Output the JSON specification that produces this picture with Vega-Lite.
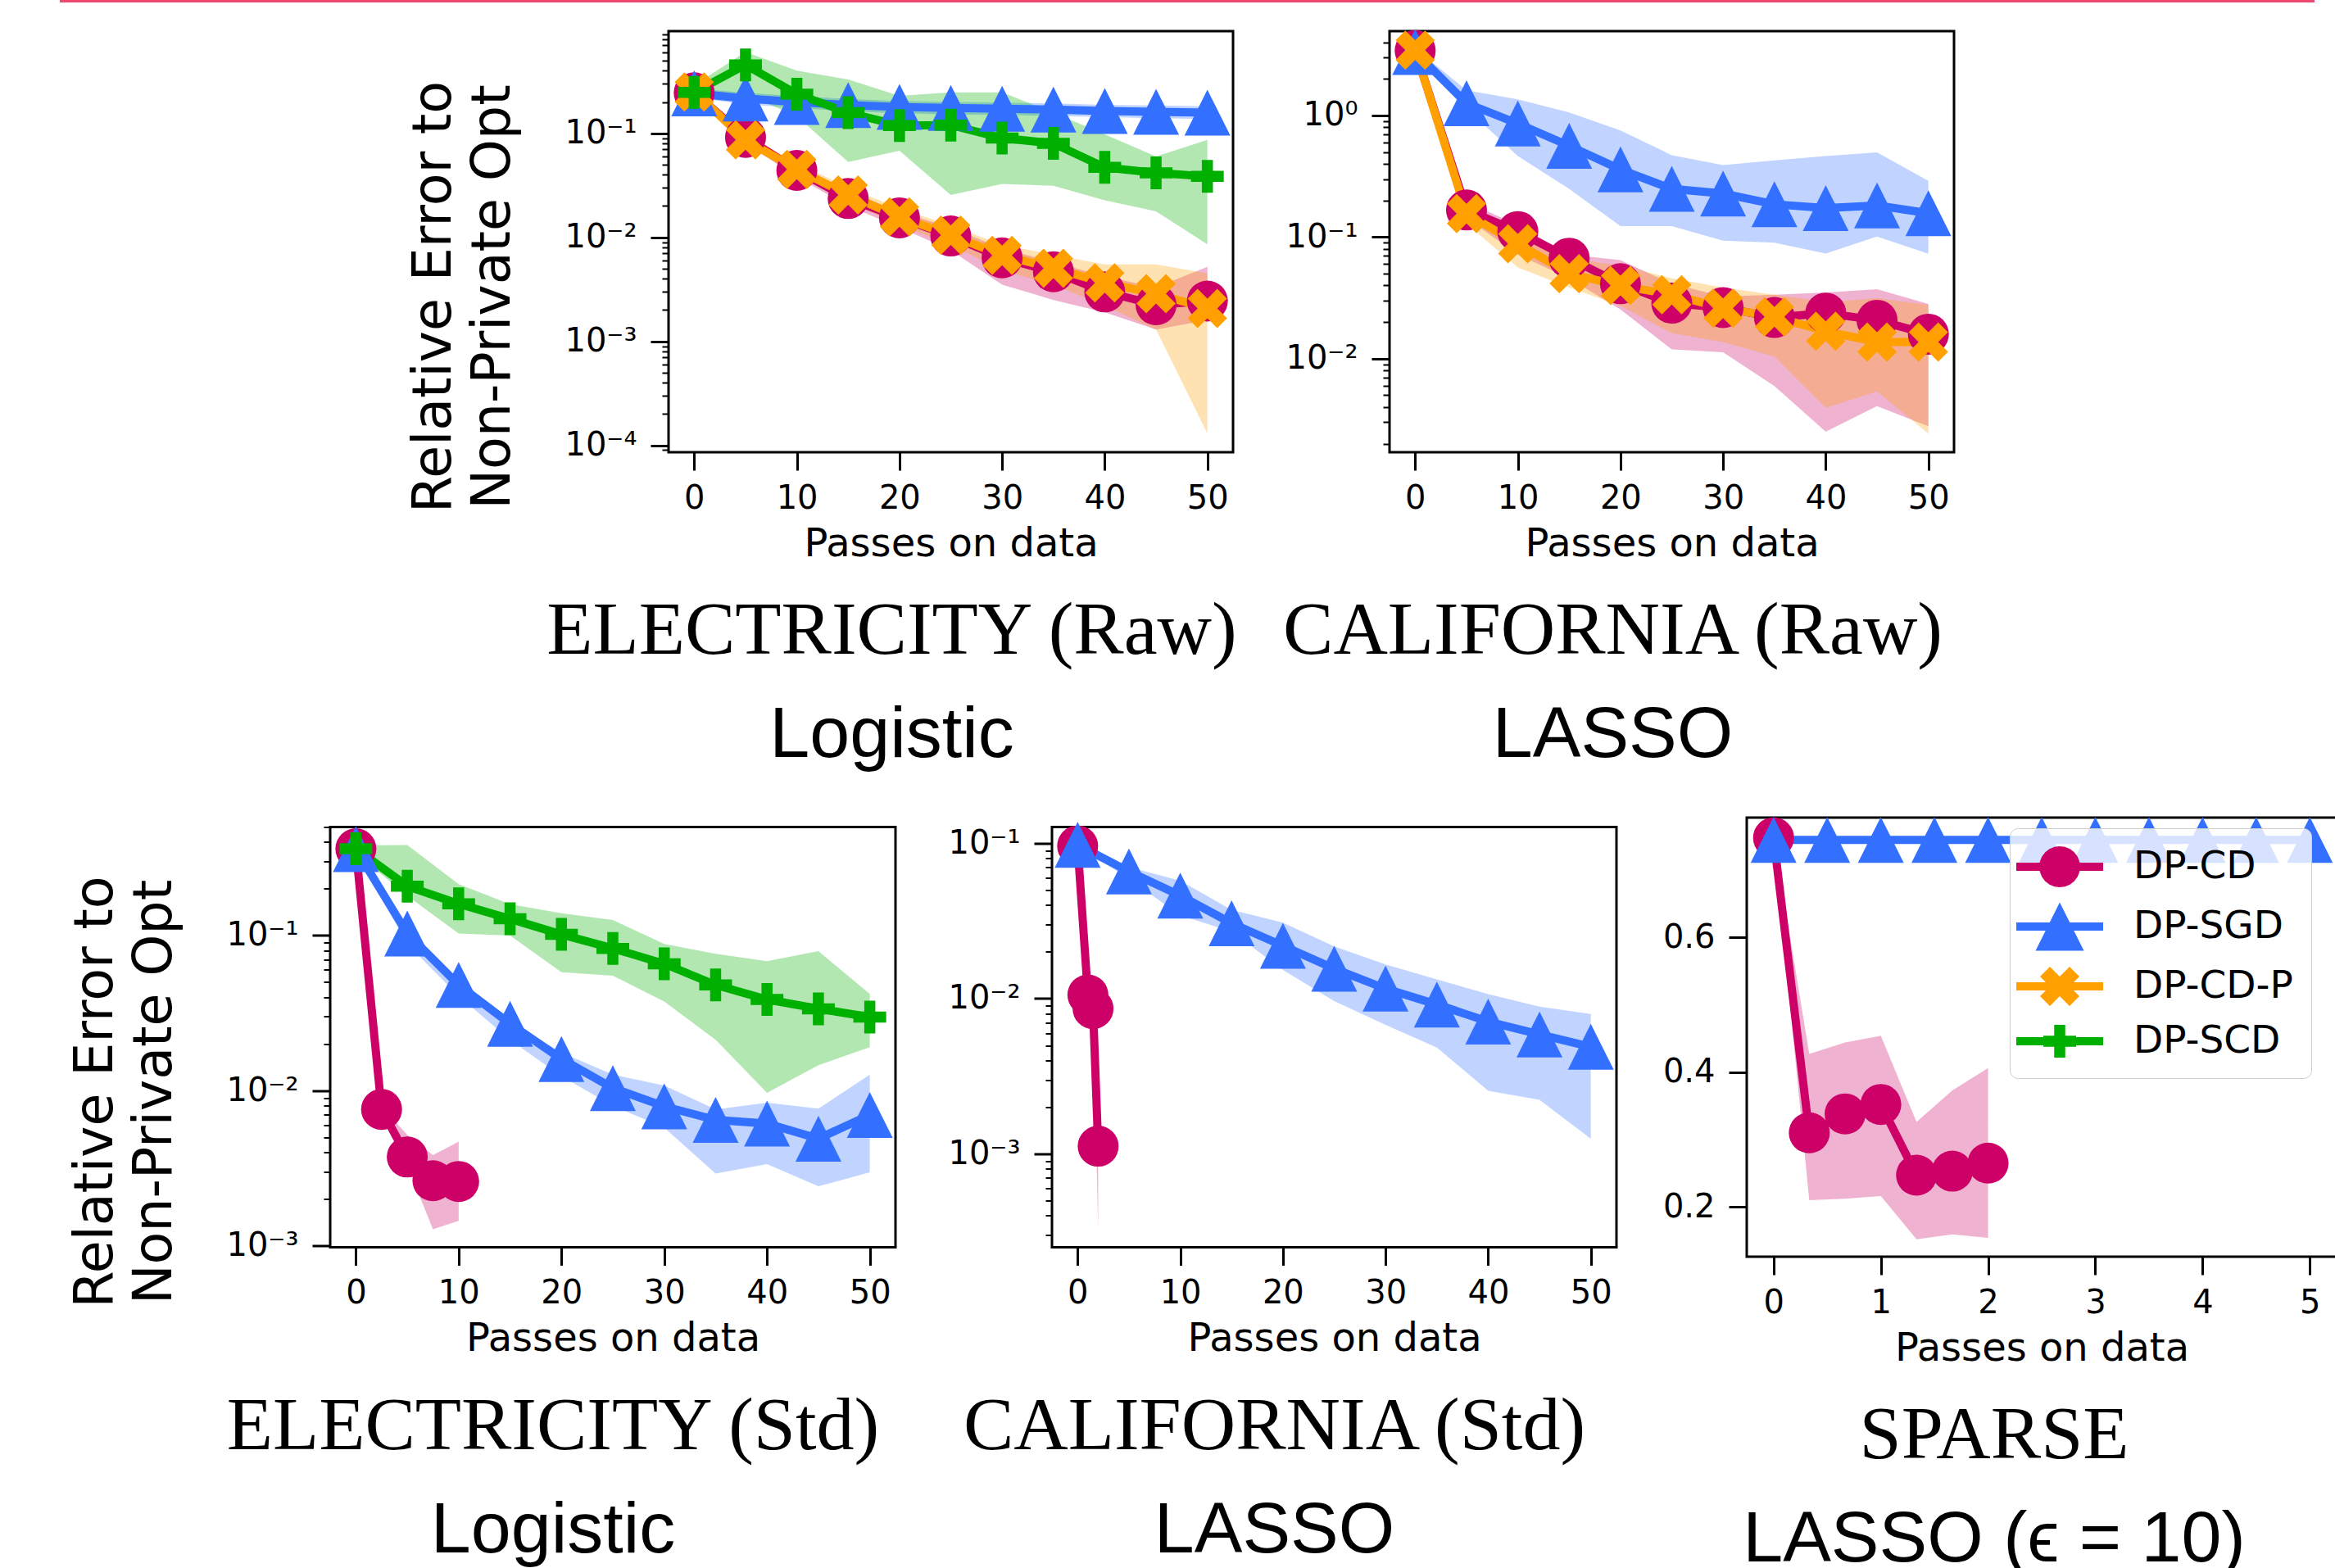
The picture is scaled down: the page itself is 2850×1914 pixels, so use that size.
{
"$schema": "https://vega.github.io/schema/vega-lite/v6.json",
"background": "white",
"padding": {"left": 73, "top": 0, "right": 0, "bottom": 0},
"autosize": {"type": "pad"},
"datasets": {
"p1": [
{"x":0,"method":"DP-CD","y":0.245,"lo":0.22,"hi":0.28},{"x":5,"method":"DP-CD","y":0.0915,"lo":0.08,"hi":0.1},{"x":10,"method":"DP-CD","y":0.044,"lo":0.038,"hi":0.05},{"x":15,"method":"DP-CD","y":0.0236,"lo":0.02,"hi":0.028},{"x":20,"method":"DP-CD","y":0.0154,"lo":0.0125,"hi":0.0175},{"x":25,"method":"DP-CD","y":0.0103,"lo":0.0075,"hi":0.0125},{"x":30,"method":"DP-CD","y":0.00635,"lo":0.0035,"hi":0.0078},{"x":35,"method":"DP-CD","y":0.00467,"lo":0.0025,"hi":0.0058},{"x":40,"method":"DP-CD","y":0.00299,"lo":0.0019,"hi":0.0042},{"x":45,"method":"DP-CD","y":0.00225,"lo":0.0013,"hi":0.0033},{"x":50,"method":"DP-CD","y":0.00244,"lo":0.0016,"hi":0.0052},
{"x":0,"method":"DP-SGD","y":0.242,"lo":0.22,"hi":0.27},{"x":5,"method":"DP-SGD","y":0.216,"lo":0.19,"hi":0.245},{"x":10,"method":"DP-SGD","y":0.2,"lo":0.175,"hi":0.228},{"x":15,"method":"DP-SGD","y":0.187,"lo":0.163,"hi":0.214},{"x":20,"method":"DP-SGD","y":0.179,"lo":0.156,"hi":0.205},{"x":25,"method":"DP-SGD","y":0.175,"lo":0.152,"hi":0.2},{"x":30,"method":"DP-SGD","y":0.172,"lo":0.15,"hi":0.197},{"x":35,"method":"DP-SGD","y":0.169,"lo":0.147,"hi":0.194},{"x":40,"method":"DP-SGD","y":0.164,"lo":0.143,"hi":0.188},{"x":45,"method":"DP-SGD","y":0.161,"lo":0.14,"hi":0.185},{"x":50,"method":"DP-SGD","y":0.158,"lo":0.137,"hi":0.182},
{"x":0,"method":"DP-CD-P","y":0.25,"lo":0.22,"hi":0.28},{"x":5,"method":"DP-CD-P","y":0.0865,"lo":0.078,"hi":0.098},{"x":10,"method":"DP-CD-P","y":0.045,"lo":0.04,"hi":0.052},{"x":15,"method":"DP-CD-P","y":0.0256,"lo":0.022,"hi":0.03},{"x":20,"method":"DP-CD-P","y":0.0157,"lo":0.013,"hi":0.019},{"x":25,"method":"DP-CD-P","y":0.0105,"lo":0.0085,"hi":0.013},{"x":30,"method":"DP-CD-P","y":0.00671,"lo":0.0048,"hi":0.0085},{"x":35,"method":"DP-CD-P","y":0.00505,"lo":0.0035,"hi":0.0068},{"x":40,"method":"DP-CD-P","y":0.00366,"lo":0.0022,"hi":0.0055},{"x":45,"method":"DP-CD-P","y":0.00287,"lo":0.0013,"hi":0.0055},{"x":50,"method":"DP-CD-P","y":0.00207,"lo":0.00013,"hi":0.0045},
{"x":0,"method":"DP-SCD","y":0.248,"lo":0.21,"hi":0.29},{"x":5,"method":"DP-SCD","y":0.455,"lo":0.238,"hi":0.605},{"x":10,"method":"DP-SCD","y":0.238,"lo":0.146,"hi":0.4},{"x":15,"method":"DP-SCD","y":0.158,"lo":0.053,"hi":0.33},{"x":20,"method":"DP-SCD","y":0.119,"lo":0.068,"hi":0.229},{"x":25,"method":"DP-SCD","y":0.12,"lo":0.0256,"hi":0.248},{"x":30,"method":"DP-SCD","y":0.09,"lo":0.0327,"hi":0.248},{"x":35,"method":"DP-SCD","y":0.08,"lo":0.0313,"hi":0.158},{"x":40,"method":"DP-SCD","y":0.047,"lo":0.0227,"hi":0.0976},{"x":45,"method":"DP-SCD","y":0.0417,"lo":0.0178,"hi":0.06},{"x":50,"method":"DP-SCD","y":0.0385,"lo":0.00857,"hi":0.0865}
],
"p2": [
{"x":0,"method":"DP-CD","y":3.42,"lo":3.2,"hi":3.6},{"x":5,"method":"DP-CD","y":0.167,"lo":0.143,"hi":0.196},{"x":10,"method":"DP-CD","y":0.111,"lo":0.0718,"hi":0.125},{"x":15,"method":"DP-CD","y":0.067,"lo":0.0458,"hi":0.0718},{"x":20,"method":"DP-CD","y":0.0413,"lo":0.0254,"hi":0.0646},{"x":25,"method":"DP-CD","y":0.0286,"lo":0.0119,"hi":0.0413},{"x":30,"method":"DP-CD","y":0.0263,"lo":0.0113,"hi":0.0324},{"x":35,"method":"DP-CD","y":0.0218,"lo":0.00595,"hi":0.0336},{"x":40,"method":"DP-CD","y":0.0237,"lo":0.00251,"hi":0.035},{"x":45,"method":"DP-CD","y":0.0207,"lo":0.00407,"hi":0.0372},{"x":50,"method":"DP-CD","y":0.0159,"lo":0.00278,"hi":0.0282},
{"x":0,"method":"DP-SGD","y":3.33,"lo":3.1,"hi":3.57},{"x":5,"method":"DP-SGD","y":1.26,"lo":1.14,"hi":1.61},{"x":10,"method":"DP-SGD","y":0.859,"lo":0.464,"hi":1.36},{"x":15,"method":"DP-SGD","y":0.563,"lo":0.249,"hi":1.06},{"x":20,"method":"DP-SGD","y":0.36,"lo":0.123,"hi":0.753},{"x":25,"method":"DP-SGD","y":0.249,"lo":0.123,"hi":0.471},{"x":30,"method":"DP-SGD","y":0.228,"lo":0.0933,"hi":0.391},{"x":35,"method":"DP-SGD","y":0.186,"lo":0.09,"hi":0.427},{"x":40,"method":"DP-SGD","y":0.173,"lo":0.0733,"hi":0.464},{"x":45,"method":"DP-SGD","y":0.182,"lo":0.101,"hi":0.497},{"x":50,"method":"DP-SGD","y":0.157,"lo":0.0728,"hi":0.29},
{"x":0,"method":"DP-CD-P","y":3.45,"lo":3.2,"hi":3.6},{"x":5,"method":"DP-CD-P","y":0.156,"lo":0.129,"hi":0.19},{"x":10,"method":"DP-CD-P","y":0.0883,"lo":0.0563,"hi":0.11},{"x":15,"method":"DP-CD-P","y":0.05,"lo":0.0385,"hi":0.067},{"x":20,"method":"DP-CD-P","y":0.0399,"lo":0.0272,"hi":0.0583},{"x":25,"method":"DP-CD-P","y":0.0336,"lo":0.0162,"hi":0.0458},{"x":30,"method":"DP-CD-P","y":0.026,"lo":0.0137,"hi":0.0385},{"x":35,"method":"DP-CD-P","y":0.0221,"lo":0.0104,"hi":0.0336},{"x":40,"method":"DP-CD-P","y":0.0168,"lo":0.00394,"hi":0.0292},{"x":45,"method":"DP-CD-P","y":0.0137,"lo":0.00537,"hi":0.0314},{"x":50,"method":"DP-CD-P","y":0.0137,"lo":0.00242,"hi":0.0276}
],
"p3": [
{"x":0,"method":"DP-CD","y":0.362,"lo":0.34,"hi":0.38},{"x":2.5,"method":"DP-CD","y":0.00758,"lo":0.0073,"hi":0.0079},{"x":5,"method":"DP-CD","y":0.00374,"lo":0.0033,"hi":0.0052},{"x":7.5,"method":"DP-CD","y":0.00263,"lo":0.00128,"hi":0.00385},{"x":10,"method":"DP-CD","y":0.0026,"lo":0.00145,"hi":0.0047},
{"x":0,"method":"DP-SGD","y":0.36,"lo":0.34,"hi":0.38},{"x":5,"method":"DP-SGD","y":0.103,"lo":0.088,"hi":0.11},{"x":10,"method":"DP-SGD","y":0.048,"lo":0.0408,"hi":0.0507},{"x":15,"method":"DP-SGD","y":0.027,"lo":0.0213,"hi":0.0279},{"x":20,"method":"DP-SGD","y":0.016,"lo":0.0124,"hi":0.0176},{"x":25,"method":"DP-SGD","y":0.0104,"lo":0.008,"hi":0.0127},{"x":30,"method":"DP-SGD","y":0.00792,"lo":0.00578,"hi":0.0108},{"x":35,"method":"DP-SGD","y":0.00648,"lo":0.00293,"hi":0.00758},{"x":40,"method":"DP-SGD","y":0.00614,"lo":0.00336,"hi":0.00836},{"x":45,"method":"DP-SGD","y":0.00491,"lo":0.00242,"hi":0.00766},{"x":50,"method":"DP-SGD","y":0.00698,"lo":0.00298,"hi":0.0127},
{"x":0,"method":"DP-SCD","y":0.362,"lo":0.34,"hi":0.38},{"x":5,"method":"DP-SCD","y":0.208,"lo":0.18,"hi":0.383},{"x":10,"method":"DP-SCD","y":0.16,"lo":0.103,"hi":0.214},{"x":15,"method":"DP-SCD","y":0.128,"lo":0.1,"hi":0.159},{"x":20,"method":"DP-SCD","y":0.1016,"lo":0.058,"hi":0.139},{"x":25,"method":"DP-SCD","y":0.0826,"lo":0.055,"hi":0.126},{"x":30,"method":"DP-SCD","y":0.0657,"lo":0.0376,"hi":0.0882},{"x":35,"method":"DP-SCD","y":0.048,"lo":0.0213,"hi":0.0762},{"x":40,"method":"DP-SCD","y":0.0387,"lo":0.0097,"hi":0.0684},{"x":45,"method":"DP-SCD","y":0.0337,"lo":0.0146,"hi":0.0792},{"x":50,"method":"DP-SCD","y":0.0298,"lo":0.0191,"hi":0.042}
],
"p4": [
{"x":0,"method":"DP-CD","y":0.0963,"lo":0.094,"hi":0.098},{"x":1,"method":"DP-CD","y":0.01056,"lo":0.0103,"hi":0.0108},{"x":1.5,"method":"DP-CD","y":0.00863,"lo":0.0084,"hi":0.0088},{"x":2,"method":"DP-CD","y":0.00112,"lo":0.000326,"hi":0.00115},
{"x":0,"method":"DP-SGD","y":0.098,"lo":0.097,"hi":0.099},{"x":5,"method":"DP-SGD","y":0.0659,"lo":0.059,"hi":0.0703},{"x":10,"method":"DP-SGD","y":0.0461,"lo":0.0344,"hi":0.0575},{"x":15,"method":"DP-SGD","y":0.0306,"lo":0.027,"hi":0.0373},{"x":20,"method":"DP-SGD","y":0.0219,"lo":0.0153,"hi":0.0309},{"x":25,"method":"DP-SGD","y":0.0156,"lo":0.00964,"hi":0.0217},{"x":30,"method":"DP-SGD","y":0.0116,"lo":0.00678,"hi":0.0166},{"x":35,"method":"DP-SGD","y":0.00917,"lo":0.00484,"hi":0.0133},{"x":40,"method":"DP-SGD","y":0.00711,"lo":0.00255,"hi":0.0107},{"x":45,"method":"DP-SGD","y":0.00588,"lo":0.00223,"hi":0.00888},{"x":50,"method":"DP-SGD","y":0.00489,"lo":0.00125,"hi":0.00796}
],
"p5": [
{"x":0,"method":"DP-CD","y":0.748,"lo":0.745,"hi":0.751},{"x":0.333,"method":"DP-CD","y":0.31,"lo":0.21,"hi":0.427},{"x":0.667,"method":"DP-CD","y":0.338,"lo":0.212,"hi":0.444},{"x":1,"method":"DP-CD","y":0.352,"lo":0.216,"hi":0.454},{"x":1.333,"method":"DP-CD","y":0.247,"lo":0.152,"hi":0.326},{"x":1.667,"method":"DP-CD","y":0.253,"lo":0.159,"hi":0.373},{"x":2,"method":"DP-CD","y":0.265,"lo":0.154,"hi":0.406},
{"x":0,"method":"DP-SGD","y":0.745,"lo":0.742,"hi":0.748},{"x":0.5,"method":"DP-SGD","y":0.745,"lo":0.742,"hi":0.748},{"x":1,"method":"DP-SGD","y":0.745,"lo":0.742,"hi":0.748},{"x":1.5,"method":"DP-SGD","y":0.745,"lo":0.742,"hi":0.748},{"x":2,"method":"DP-SGD","y":0.745,"lo":0.742,"hi":0.748},{"x":2.5,"method":"DP-SGD","y":0.745,"lo":0.742,"hi":0.748},{"x":3,"method":"DP-SGD","y":0.745,"lo":0.742,"hi":0.748},{"x":3.5,"method":"DP-SGD","y":0.745,"lo":0.742,"hi":0.748},{"x":4,"method":"DP-SGD","y":0.745,"lo":0.742,"hi":0.748},{"x":4.5,"method":"DP-SGD","y":0.745,"lo":0.742,"hi":0.748},{"x":5,"method":"DP-SGD","y":0.745,"lo":0.742,"hi":0.748}
],
"legend": [{"method":"DP-CD"},{"method":"DP-SGD"},{"method":"DP-CD-P"},{"method":"DP-SCD"}]
},
"spacing": 30,
"vconcat": [
{"width": 2752, "height": 3, "data": {"values": []}, "mark": "point", "view": {"fill": "#ee4870", "stroke": null}},
{"spacing": 0, "bounds": "flush", "hconcat": [
{"width": 743, "height": 927, "data": {"values": []}, "mark": "point", "view": {"fill": "transparent", "stroke": null}},
{
"width": 689, "height": 514,
"data": {"name": "p1"},
"title": {"text": "ELECTRICITY (Raw)", "subtitle": "Logistic", "dx": -72},
"encoding": {
"x": {"field": "x", "type": "quantitative", "scale": {"domain": [-2.5, 52.5], "nice": false, "zero": false}, "axis": {"values": [0,10,20,30,40,50], "title": "Passes on data"}},
"y": {"field": "y", "type": "quantitative", "scale": {"type": "log", "domain": [0.000086, 0.96], "nice": false}, "axis": {"title": ["Relative Error to", "Non-Private Opt"], "titleY": 324, "values": [0.00009,0.0001,0.0002,0.0003,0.0004,0.0005,0.0006,0.0007,0.0008,0.0009,0.001,0.002,0.003,0.004,0.005,0.006,0.007,0.008,0.009,0.01,0.02,0.03,0.04,0.05,0.06,0.07,0.08,0.09,0.1,0.2,0.3,0.4,0.5,0.6,0.7,0.8,0.9],
"labelExpr": "abs(log(datum.value)/LN10 - round(log(datum.value)/LN10)) < 0.001 ? '10' + (round(log(datum.value)/LN10) == 0 ? '⁰' : round(log(datum.value)/LN10) == -1 ? '⁻¹' : round(log(datum.value)/LN10) == -2 ? '⁻²' : round(log(datum.value)/LN10) == -3 ? '⁻³' : '⁻⁴') : ''",
"labelFontSize": {"condition": {"test": "abs(log(datum.value)/LN10 - round(log(datum.value)/LN10)) < 0.001", "value": 40}, "value": 0},
"tickSize": {"condition": {"test": "abs(log(datum.value)/LN10 - round(log(datum.value)/LN10)) < 0.001", "value": 22}, "value": 8},
"tickWidth": {"condition": {"test": "abs(log(datum.value)/LN10 - round(log(datum.value)/LN10)) < 0.001", "value": 3}, "value": 2}}},
"color": {"field": "method", "type": "nominal", "scale": {"domain": ["DP-CD","DP-SGD","DP-CD-P","DP-SCD"], "range": ["#cc0066","#3370ff","#ff9f00","#00b000"]}, "legend": null}
},
"layer": [
{"mark": {"type": "area", "opacity": 0.3}, "encoding": {"y": {"field": "hi", "type": "quantitative", "scale": {"type": "log", "domain": [0.000086, 0.96], "nice": false}}, "y2": {"field": "lo"}}},
{"mark": {"type": "line", "strokeWidth": 10}},
{"mark": {"type": "point", "filled": true, "size": 2500, "opacity": 1, "strokeWidth": 0}, "encoding": {"shape": {"field": "method", "type": "nominal", "scale": {"domain": ["DP-CD","DP-SGD","DP-CD-P","DP-SCD"], "range": ["circle", "M 0,-1.12 L 1.12,1.12 L -1.12,1.12 Z", "M 0.48,-0.96 L 0.96,-0.48 L 0.48,0 L 0.96,0.48 L 0.48,0.96 L 0,0.48 L -0.48,0.96 L -0.96,0.48 L -0.48,0 L -0.96,-0.48 L -0.48,-0.96 L 0,-0.48 Z", "M -0.27,-0.8 L 0.27,-0.8 L 0.27,-0.27 L 0.8,-0.27 L 0.8,0.27 L 0.27,0.27 L 0.27,0.8 L -0.27,0.8 L -0.27,0.27 L -0.8,0.27 L -0.8,-0.27 L -0.27,-0.27 Z"]}, "legend": null}}}
]
},
{"width": 191, "height": 1, "data": {"values": []}, "mark": "point", "view": {"stroke": null}},
{
"width": 689, "height": 514,
"data": {"name": "p2"},
"title": {"text": "CALIFORNIA (Raw)", "subtitle": "LASSO", "dx": -72},
"encoding": {
"x": {"field": "x", "type": "quantitative", "scale": {"domain": [-2.5, 52.5], "nice": false, "zero": false}, "axis": {"values": [0,10,20,30,40,50], "title": "Passes on data"}},
"y": {"field": "y", "type": "quantitative", "scale": {"type": "log", "domain": [0.0017, 4.94], "nice": false}, "axis": {"title": null, "values": [0.002,0.003,0.004,0.005,0.006,0.007,0.008,0.009,0.01,0.02,0.03,0.04,0.05,0.06,0.07,0.08,0.09,0.1,0.2,0.3,0.4,0.5,0.6,0.7,0.8,0.9,1,2,3,4],
"labelExpr": "abs(log(datum.value)/LN10 - round(log(datum.value)/LN10)) < 0.001 ? '10' + (round(log(datum.value)/LN10) == 0 ? '⁰' : round(log(datum.value)/LN10) == -1 ? '⁻¹' : round(log(datum.value)/LN10) == -2 ? '⁻²' : round(log(datum.value)/LN10) == -3 ? '⁻³' : '⁻⁴') : ''",
"labelFontSize": {"condition": {"test": "abs(log(datum.value)/LN10 - round(log(datum.value)/LN10)) < 0.001", "value": 40}, "value": 0},
"tickSize": {"condition": {"test": "abs(log(datum.value)/LN10 - round(log(datum.value)/LN10)) < 0.001", "value": 22}, "value": 8},
"tickWidth": {"condition": {"test": "abs(log(datum.value)/LN10 - round(log(datum.value)/LN10)) < 0.001", "value": 3}, "value": 2}}},
"color": {"field": "method", "type": "nominal", "scale": {"domain": ["DP-CD","DP-SGD","DP-CD-P","DP-SCD"], "range": ["#cc0066","#3370ff","#ff9f00","#00b000"]}, "legend": null}
},
"layer": [
{"mark": {"type": "area", "opacity": 0.3}, "encoding": {"y": {"field": "hi", "type": "quantitative", "scale": {"type": "log", "domain": [0.0017, 4.94], "nice": false}}, "y2": {"field": "lo"}}},
{"mark": {"type": "line", "strokeWidth": 10}},
{"mark": {"type": "point", "filled": true, "size": 2500, "opacity": 1, "strokeWidth": 0}, "encoding": {"shape": {"field": "method", "type": "nominal", "scale": {"domain": ["DP-CD","DP-SGD","DP-CD-P","DP-SCD"], "range": ["circle", "M 0,-1.12 L 1.12,1.12 L -1.12,1.12 Z", "M 0.48,-0.96 L 0.96,-0.48 L 0.48,0 L 0.96,0.48 L 0.48,0.96 L 0,0.48 L -0.48,0.96 L -0.96,0.48 L -0.48,0 L -0.96,-0.48 L -0.48,-0.96 L 0,-0.48 Z", "M -0.27,-0.8 L 0.27,-0.8 L 0.27,-0.27 L 0.8,-0.27 L 0.8,0.27 L 0.27,0.27 L 0.27,0.8 L -0.27,0.8 L -0.27,0.27 L -0.8,0.27 L -0.8,-0.27 L -0.27,-0.27 Z"]}, "legend": null}}}
]
}
]},
{"spacing": 0, "bounds": "flush", "center": true, "hconcat": [
{"width": 330, "height": 1, "data": {"values": []}, "mark": "point", "view": {"fill": "transparent", "stroke": null}},
{
"width": 690, "height": 513,
"data": {"name": "p3"},
"title": {"text": "ELECTRICITY (Std)", "subtitle": "Logistic", "dx": -73},
"encoding": {
"x": {"field": "x", "type": "quantitative", "scale": {"domain": [-2.5, 52.5], "nice": false, "zero": false}, "axis": {"values": [0,10,20,30,40,50], "title": "Passes on data"}},
"y": {"field": "y", "type": "quantitative", "scale": {"type": "log", "domain": [0.00098, 0.5], "nice": false}, "axis": {"title": ["Relative Error to", "Non-Private Opt"], "titleY": 323, "values": [0.001,0.002,0.003,0.004,0.005,0.006,0.007,0.008,0.009,0.01,0.02,0.03,0.04,0.05,0.06,0.07,0.08,0.09,0.1,0.2,0.3,0.4,0.5],
"labelExpr": "abs(log(datum.value)/LN10 - round(log(datum.value)/LN10)) < 0.001 ? '10' + (round(log(datum.value)/LN10) == 0 ? '⁰' : round(log(datum.value)/LN10) == -1 ? '⁻¹' : round(log(datum.value)/LN10) == -2 ? '⁻²' : round(log(datum.value)/LN10) == -3 ? '⁻³' : '⁻⁴') : ''",
"labelFontSize": {"condition": {"test": "abs(log(datum.value)/LN10 - round(log(datum.value)/LN10)) < 0.001", "value": 40}, "value": 0},
"tickSize": {"condition": {"test": "abs(log(datum.value)/LN10 - round(log(datum.value)/LN10)) < 0.001", "value": 22}, "value": 8},
"tickWidth": {"condition": {"test": "abs(log(datum.value)/LN10 - round(log(datum.value)/LN10)) < 0.001", "value": 3}, "value": 2}}},
"color": {"field": "method", "type": "nominal", "scale": {"domain": ["DP-CD","DP-SGD","DP-CD-P","DP-SCD"], "range": ["#cc0066","#3370ff","#ff9f00","#00b000"]}, "legend": null}
},
"layer": [
{"mark": {"type": "area", "opacity": 0.3}, "encoding": {"y": {"field": "hi", "type": "quantitative", "scale": {"type": "log", "domain": [0.00098, 0.5], "nice": false}}, "y2": {"field": "lo"}}},
{"mark": {"type": "line", "strokeWidth": 10}},
{"mark": {"type": "point", "filled": true, "size": 2500, "opacity": 1, "strokeWidth": 0}, "encoding": {"shape": {"field": "method", "type": "nominal", "scale": {"domain": ["DP-CD","DP-SGD","DP-CD-P","DP-SCD"], "range": ["circle", "M 0,-1.12 L 1.12,1.12 L -1.12,1.12 Z", "M 0.48,-0.96 L 0.96,-0.48 L 0.48,0 L 0.96,0.48 L 0.48,0.96 L 0,0.48 L -0.48,0.96 L -0.96,0.48 L -0.48,0 L -0.96,-0.48 L -0.48,-0.96 L 0,-0.48 Z", "M -0.27,-0.8 L 0.27,-0.8 L 0.27,-0.27 L 0.8,-0.27 L 0.8,0.27 L 0.27,0.27 L 0.27,0.8 L -0.27,0.8 L -0.27,0.27 L -0.8,0.27 L -0.8,-0.27 L -0.27,-0.27 Z"]}, "legend": null}}}
]
},
{"width": 191, "height": 1, "data": {"values": []}, "mark": "point", "view": {"stroke": null}},
{
"width": 689, "height": 513,
"data": {"name": "p4"},
"title": {"text": "CALIFORNIA (Std)", "subtitle": "LASSO", "dx": -73},
"encoding": {
"x": {"field": "x", "type": "quantitative", "scale": {"domain": [-2.5, 52.5], "nice": false, "zero": false}, "axis": {"values": [0,10,20,30,40,50], "title": "Passes on data"}},
"y": {"field": "y", "type": "quantitative", "scale": {"type": "log", "domain": [0.00025, 0.1276], "nice": false}, "axis": {"title": null, "values": [0.0003,0.0004,0.0005,0.0006,0.0007,0.0008,0.0009,0.001,0.002,0.003,0.004,0.005,0.006,0.007,0.008,0.009,0.01,0.02,0.03,0.04,0.05,0.06,0.07,0.08,0.09,0.1],
"labelExpr": "abs(log(datum.value)/LN10 - round(log(datum.value)/LN10)) < 0.001 ? '10' + (round(log(datum.value)/LN10) == 0 ? '⁰' : round(log(datum.value)/LN10) == -1 ? '⁻¹' : round(log(datum.value)/LN10) == -2 ? '⁻²' : round(log(datum.value)/LN10) == -3 ? '⁻³' : '⁻⁴') : ''",
"labelFontSize": {"condition": {"test": "abs(log(datum.value)/LN10 - round(log(datum.value)/LN10)) < 0.001", "value": 40}, "value": 0},
"tickSize": {"condition": {"test": "abs(log(datum.value)/LN10 - round(log(datum.value)/LN10)) < 0.001", "value": 22}, "value": 8},
"tickWidth": {"condition": {"test": "abs(log(datum.value)/LN10 - round(log(datum.value)/LN10)) < 0.001", "value": 3}, "value": 2}}},
"color": {"field": "method", "type": "nominal", "scale": {"domain": ["DP-CD","DP-SGD","DP-CD-P","DP-SCD"], "range": ["#cc0066","#3370ff","#ff9f00","#00b000"]}, "legend": null}
},
"layer": [
{"mark": {"type": "area", "opacity": 0.3}, "encoding": {"y": {"field": "hi", "type": "quantitative", "scale": {"type": "log", "domain": [0.00025, 0.1276], "nice": false}}, "y2": {"field": "lo"}}},
{"mark": {"type": "line", "strokeWidth": 10}},
{"mark": {"type": "point", "filled": true, "size": 2500, "opacity": 1, "strokeWidth": 0}, "encoding": {"shape": {"field": "method", "type": "nominal", "scale": {"domain": ["DP-CD","DP-SGD","DP-CD-P","DP-SCD"], "range": ["circle", "M 0,-1.12 L 1.12,1.12 L -1.12,1.12 Z", "M 0.48,-0.96 L 0.96,-0.48 L 0.48,0 L 0.96,0.48 L 0.48,0.96 L 0,0.48 L -0.48,0.96 L -0.96,0.48 L -0.48,0 L -0.96,-0.48 L -0.48,-0.96 L 0,-0.48 Z", "M -0.27,-0.8 L 0.27,-0.8 L 0.27,-0.27 L 0.8,-0.27 L 0.8,0.27 L 0.27,0.27 L 0.27,0.8 L -0.27,0.8 L -0.27,0.27 L -0.8,0.27 L -0.8,-0.27 L -0.27,-0.27 Z"]}, "legend": null}}}
]
},
{"width": 159, "height": 1, "data": {"values": []}, "mark": "point", "view": {"stroke": null}},
{
"width": 720, "height": 536,
"title": {"text": "SPARSE", "subtitle": "LASSO (ϵ = 10)", "dx": -58},
"resolve": {"scale": {"color": "independent", "shape": "independent"}},
"layer": [
{"data": {"name": "p5"}, "mark": {"type": "area", "opacity": 0.3}, "encoding": {
"x": {"field": "x", "type": "quantitative", "scale": {"domain": [-0.25, 5.25], "nice": false, "zero": false}, "axis": {"values": [0,1,2,3,4,5], "format": "d", "title": "Passes on data"}},
"y": {"field": "hi", "type": "quantitative", "scale": {"domain": [0.126, 0.778], "nice": false, "zero": false}, "axis": {"values": [0.2,0.4,0.6], "format": ".1f", "title": null}},
"y2": {"field": "lo"},
"color": {"field": "method", "type": "nominal", "scale": {"domain": ["DP-CD","DP-SGD","DP-CD-P","DP-SCD"], "range": ["#cc0066","#3370ff","#ff9f00","#00b000"]}, "legend": null}}},
{"data": {"name": "p5"}, "mark": {"type": "line", "strokeWidth": 10}, "encoding": {
"x": {"field": "x", "type": "quantitative"},
"y": {"field": "y", "type": "quantitative"},
"color": {"field": "method", "type": "nominal", "scale": {"domain": ["DP-CD","DP-SGD","DP-CD-P","DP-SCD"], "range": ["#cc0066","#3370ff","#ff9f00","#00b000"]}, "legend": null}}},
{"data": {"name": "p5"}, "mark": {"type": "point", "filled": true, "size": 2500, "opacity": 1, "strokeWidth": 0}, "encoding": {
"x": {"field": "x", "type": "quantitative"},
"y": {"field": "y", "type": "quantitative"},
"color": {"field": "method", "type": "nominal", "scale": {"domain": ["DP-CD","DP-SGD","DP-CD-P","DP-SCD"], "range": ["#cc0066","#3370ff","#ff9f00","#00b000"]}, "legend": null},
"shape": {"field": "method", "type": "nominal", "scale": {"domain": ["DP-CD","DP-SGD","DP-CD-P","DP-SCD"], "range": ["circle", "M 0,-1.12 L 1.12,1.12 L -1.12,1.12 Z", "M 0.48,-0.96 L 0.96,-0.48 L 0.48,0 L 0.96,0.48 L 0.48,0.96 L 0,0.48 L -0.48,0.96 L -0.96,0.48 L -0.48,0 L -0.96,-0.48 L -0.48,-0.96 L 0,-0.48 Z", "M -0.27,-0.8 L 0.27,-0.8 L 0.27,-0.27 L 0.8,-0.27 L 0.8,0.27 L 0.27,0.27 L 0.27,0.8 L -0.27,0.8 L -0.27,0.27 L -0.8,0.27 L -0.8,-0.27 L -0.27,-0.27 Z"]}, "legend": null}}},
{"data": {"name": "legend"}, "mark": {"type": "point", "filled": true, "size": 2500, "opacity": 1, "strokeWidth": 0}, "encoding": {
"x": {"field": "x", "type": "quantitative"},
"y": {"field": "y", "type": "quantitative"},
"color": {"field": "method", "type": "nominal", "scale": {"domain": ["DP-CD","DP-SGD","DP-CD-P","DP-SCD"], "range": ["#cc0066","#3370ff","#ff9f00","#00b000"]}, "legend": {"orient": "none", "legendX": 321, "legendY": 13, "title": null, "labelFont": "DejaVu Sans", "labelFontSize": 47, "labelColor": "black", "labelLimit": 500, "symbolSize": 2500, "symbolStrokeWidth": 0, "symbolOpacity": 1, "rowPadding": 18, "padding": 22, "symbolOffset": 14, "labelOffset": 65, "strokeColor": "#cccccc", "fillColor": "rgba(255,255,255,0.8)", "cornerRadius": 10}},
"shape": {"field": "method", "type": "nominal", "scale": {"domain": ["DP-CD","DP-SGD","DP-CD-P","DP-SCD"], "range": [
"M 1,0 L 0.966,0.259 L 0.866,0.5 L 0.707,0.707 L 0.5,0.866 L 0.259,0.966 L 0,1 L -0.259,0.966 L -0.5,0.866 L -0.707,0.707 L -0.866,0.5 L -0.966,0.259 L -1,0 L -0.966,-0.259 L -0.866,-0.5 L -0.707,-0.707 L -0.5,-0.866 L -0.259,-0.966 L 0,-1 L 0.259,-0.966 L 0.5,-0.866 L 0.707,-0.707 L 0.866,-0.5 L 0.966,-0.259 Z M -2.12,-0.2 L 2.12,-0.2 L 2.12,0.2 L -2.12,0.2 Z",
"M 0,-1.18 L 1.18,1.18 L -1.18,1.18 Z M -2.12,-0.2 L 2.12,-0.2 L 2.12,0.2 L -2.12,0.2 Z",
"M 0.48,-0.96 L 0.96,-0.48 L 0.48,0 L 0.96,0.48 L 0.48,0.96 L 0,0.48 L -0.48,0.96 L -0.96,0.48 L -0.48,0 L -0.96,-0.48 L -0.48,-0.96 L 0,-0.48 Z M -2.12,-0.2 L 2.12,-0.2 L 2.12,0.2 L -2.12,0.2 Z",
"M -0.27,-0.8 L 0.27,-0.8 L 0.27,-0.27 L 0.8,-0.27 L 0.8,0.27 L 0.27,0.27 L 0.27,0.8 L -0.27,0.8 L -0.27,0.27 L -0.8,0.27 L -0.8,-0.27 L -0.27,-0.27 Z M -2.12,-0.2 L 2.12,-0.2 L 2.12,0.2 L -2.12,0.2 Z"]}, "legend": {"orient": "none", "legendX": 321, "legendY": 13, "title": null, "labelFont": "DejaVu Sans", "labelFontSize": 47, "labelColor": "black", "labelLimit": 500, "symbolSize": 2500, "symbolStrokeWidth": 0, "symbolOpacity": 1, "rowPadding": 18, "padding": 22, "symbolOffset": 14, "labelOffset": 65, "strokeColor": "#cccccc", "fillColor": "rgba(255,255,255,0.8)", "cornerRadius": 10}}}}
]
}
]}
],
"config": {
"view": {"stroke": "black", "strokeWidth": 3},
"font": "DejaVu Sans",
"axis": {"domain": false, "grid": false, "tickColor": "black", "tickWidth": 3, "tickSize": 22, "labelFont": "DejaVu Sans", "labelFontSize": 40, "labelColor": "black", "labelPadding": 14, "labelFlush": false, "labelOverlap": false, "titleFont": "DejaVu Sans", "titleFontWeight": "normal", "titleColor": "black", "titleFontSize": 48},
"axisX": {"titlePadding": 12},
"axisY": {"titleFontSize": 65, "titleLineHeight": 72, "titlePadding": 53, "labelPadding": 17},
"title": {"orient": "bottom", "anchor": "middle", "frame": "group", "offset": 37, "font": "Liberation Serif", "fontSize": 92, "fontWeight": "normal", "color": "black", "subtitleFont": "Liberation Sans", "subtitleFontSize": 88, "subtitleColor": "black", "subtitlePadding": 37}
}
}
